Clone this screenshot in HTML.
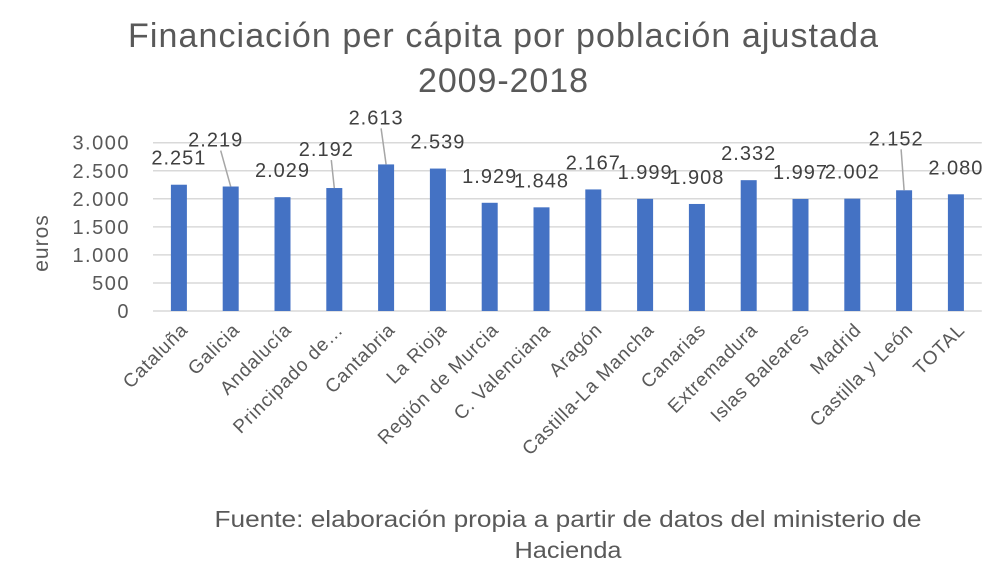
<!DOCTYPE html>
<html><head><meta charset="utf-8"><style>
body{margin:0;background:#fff;}
svg{display:block;font-family:"Liberation Sans",sans-serif;}
</style></head><body>
<svg id="chart" width="1004" height="586" viewBox="0 0 1004 586">
<text x="503" y="47" text-anchor="middle" font-size="34" fill="#595959" textLength="750" lengthAdjust="spacing">Financiación per cápita por población ajustada</text>
<text x="503" y="92" text-anchor="middle" font-size="34" fill="#595959" textLength="170" lengthAdjust="spacing">2009-2018</text>
<text transform="translate(48,243) rotate(-90)" text-anchor="middle" font-size="21" fill="#595959" letter-spacing="1">euros</text>
<g id="grid"></g><g id="bars"></g><g id="labels"></g>
<text x="568" y="527" text-anchor="middle" font-size="23" fill="#595959" textLength="707" lengthAdjust="spacingAndGlyphs">Fuente: elaboración propia a partir de datos del ministerio de</text>
<text x="568" y="558" text-anchor="middle" font-size="23" fill="#595959" textLength="107" lengthAdjust="spacingAndGlyphs">Hacienda</text>
</svg>
<script>
const categories=["Cataluña","Galicia","Andalucía","Principado de…","Cantabria","La Rioja","Región de Murcia","C. Valenciana","Aragón","Castilla-La Mancha","Canarias","Extremadura","Islas Baleares","Madrid","Castilla y León","TOTAL"];
const values=[2251,2219,2029,2192,2613,2539,1929,1848,2167,1999,1908,2332,1997,2002,2152,2080];
const valueLabels=["2.251","2.219","2.029","2.192","2.613","2.539","1.929","1.848","2.167","1.999","1.908","2.332","1.997","2.002","2.152","2.080"];
const ticks=[0,500,1000,1500,2000,2500,3000];
const tickLabels=["0","500","1.000","1.500","2.000","2.500","3.000"];
const NS="http://www.w3.org/2000/svg";
const x0=153,step=51.8,bw=16,yBase=311,yTop=142.7,vmax=3000;
const y=v=>yBase-(v/vmax)*(yBase-yTop);
const xc=i=>x0+step*(i+0.5);
function mk(t,a,p){const e=document.createElementNS(NS,t);for(const k in a)e.setAttribute(k,a[k]);p.appendChild(e);return e;}
const grid=document.getElementById('grid'),bars=document.getElementById('bars'),labels=document.getElementById('labels');
ticks.forEach((t,i)=>{
 const l=mk('line',{x1:x0,x2:x0+step*categories.length,y1:y(t),y2:y(t),stroke:'#d9d9d9','stroke-width':1.5},grid);
 
 
 const tx=mk('text',{x:130,y:y(t)+7,'text-anchor':'end','font-size':20,'letter-spacing':1.5,fill:'#595959'},grid);
 tx.textContent=tickLabels[i];
 
 
});
const nudge={1:[-15,-20],3:[-8,-12],4:[-10,-20],14:[-8,-25]};
categories.forEach((c,i)=>{
 const cx=xc(i);
 const r=mk('rect',{x:cx-bw/2,y:y(values[i]),width:bw,height:yBase-y(values[i]),fill:'#4472c4'},bars);
 
 
 const n=nudge[i]||[0,0];
 const lx=cx+n[0],ly=y(values[i])-20+n[1];
 if(nudge[i]){
  const ll=mk('line',{x1:lx+5,y1:ly+4,x2:cx,y2:y(values[i]),stroke:'#a6a6a6','stroke-width':1.5},labels);
  
  
 }
 const vt=mk('text',{x:lx,y:ly,'text-anchor':'middle','font-size':20,'letter-spacing':1,fill:'#404040'},labels);
 vt.textContent=valueLabels[i];
 
 
 const ct=mk('text',{'text-anchor':'end','font-size':19,'letter-spacing':0.8,fill:'#595959',transform:`translate(${cx+10},${331}) rotate(-45)`},labels);
 ct.textContent=c;
 
 
});
</script>
</body></html>
